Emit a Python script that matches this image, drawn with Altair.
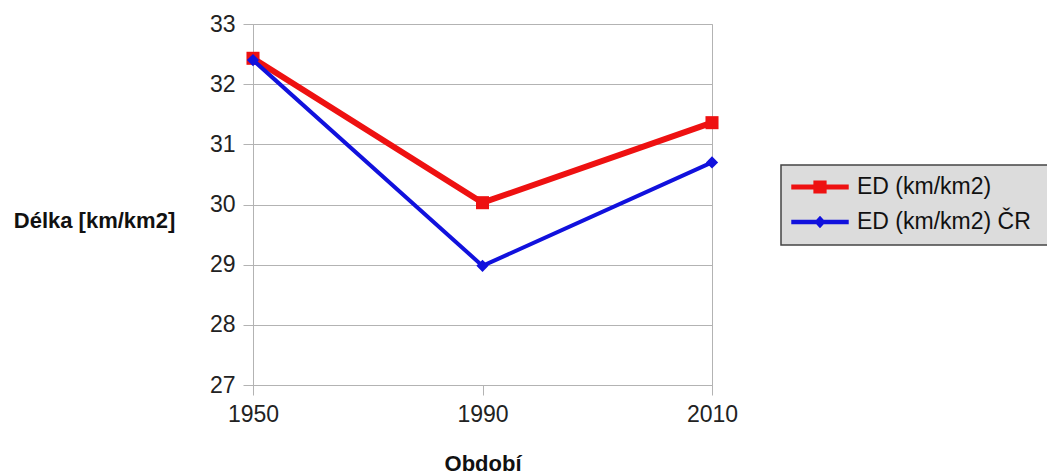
import altair as alt
import pandas as pd

# Edge density by period: study area vs. the whole Czech Republic
periods = ["1950", "1990", "2010"]
series_names = ["ED (km/km2)", "ED (km/km2) ČR"]
ed_area = [32.43, 30.03, 31.36]
ed_cr = [32.40, 28.98, 30.70]

colors = ["#ee1111", "#1111dd"]
line_widths = [6, 4]
point_shapes = ["square", "diamond"]
point_sizes = [170, 150]

FONT = "Liberation Sans"

# legend glyphs: a thick line with the series marker on it
legend_symbols = [
    "M-1,-0.09H1V0.09H-1Z M-0.23,-0.23H0.23V0.23H-0.23Z",
    "M-1,-0.08H1V0.08H-1Z M0,-0.22L0.2,0L0,0.22L-0.2,0Z",
]
legend_x = 538
legend_ys = [134, 169]


def frame(name, values):
    return pd.DataFrame({"Období": periods, "value": values, "series": name})


x_enc = alt.X(
    "Období:O",
    sort=periods,
    scale=alt.Scale(type="point", padding=0),
    axis=alt.Axis(
        title="Období",
        labelAngle=0,
        labelFontSize=23,
        labelPadding=8,
        tickSize=10,
        grid=False,
        titleFontSize=22,
        titleFontWeight="bold",
        titleY=78,
        titleBaseline="middle",
    ),
)
y_enc = alt.Y(
    "value:Q",
    scale=alt.Scale(domain=[27, 33], nice=False, zero=False),
    axis=alt.Axis(
        title="Délka [km/km2]",
        values=[27, 28, 29, 30, 31, 32, 33],
        labelFontSize=23,
        labelPadding=8,
        tickSize=10,
        titleAngle=0,
        titleFontSize=22,
        titleFontWeight="bold",
        titleAlign="center",
        titleBaseline="middle",
        titleX=-159,
        titleY=196,
    ),
)


def series_layer(i, values):
    df = frame(series_names[i], values)
    color = alt.Color(
        "series:N",
        scale=alt.Scale(domain=[series_names[i]], range=[colors[i]]),
        legend=alt.Legend(
            title=None,
            orient="none",
            legendX=legend_x,
            legendY=legend_ys[i],
            padding=0,
            labelFontSize=23,
            labelFont=FONT,
            labelColor="#111111",
            labelOffset=8,
            symbolSize=3300,
            symbolStrokeWidth=0,
            symbolType=legend_symbols[i],
            symbolFillColor=colors[i],
            symbolOpacity=1,
            labelLimit=400,
        ),
    )
    line = alt.Chart(df).mark_line(strokeWidth=line_widths[i]).encode(
        x=x_enc, y=y_enc, color=color, order=alt.Order("Období:O")
    )
    pts = alt.Chart(df).mark_point(
        filled=True, opacity=1, shape=point_shapes[i], size=point_sizes[i]
    ).encode(x=x_enc, y=y_enc, color=color)
    return alt.layer(line, pts)


# grey legend panel behind both legend entries
panel = alt.Chart(pd.DataFrame({"k": [0]})).mark_rect(
    fill="#dcdcdc", stroke="#444444", strokeWidth=1.5
).encode(
    x=alt.value(528), x2=alt.value(840), y=alt.value(141), y2=alt.value(221)
)

chart = (
    alt.layer(panel, series_layer(0, ed_area), series_layer(1, ed_cr))
    .resolve_scale(color="independent")
    .properties(
        width=459,
        height=361,
        padding={"left": 253, "top": 24, "right": 335, "bottom": 89},
        autosize=alt.AutoSizeParams(type="none"),
        background="white",
    )
    .configure_view(stroke="#b3b3b3", strokeWidth=1)
    .configure_axis(
        labelFont=FONT,
        titleFont=FONT,
        labelColor="#222222",
        titleColor="#111111",
        domainColor="#b3b3b3",
        tickColor="#b3b3b3",
        gridColor="#b3b3b3",
        gridOpacity=1,
    )
)

chart.save("out.html", embed_options={"renderer": "svg", "actions": False})
